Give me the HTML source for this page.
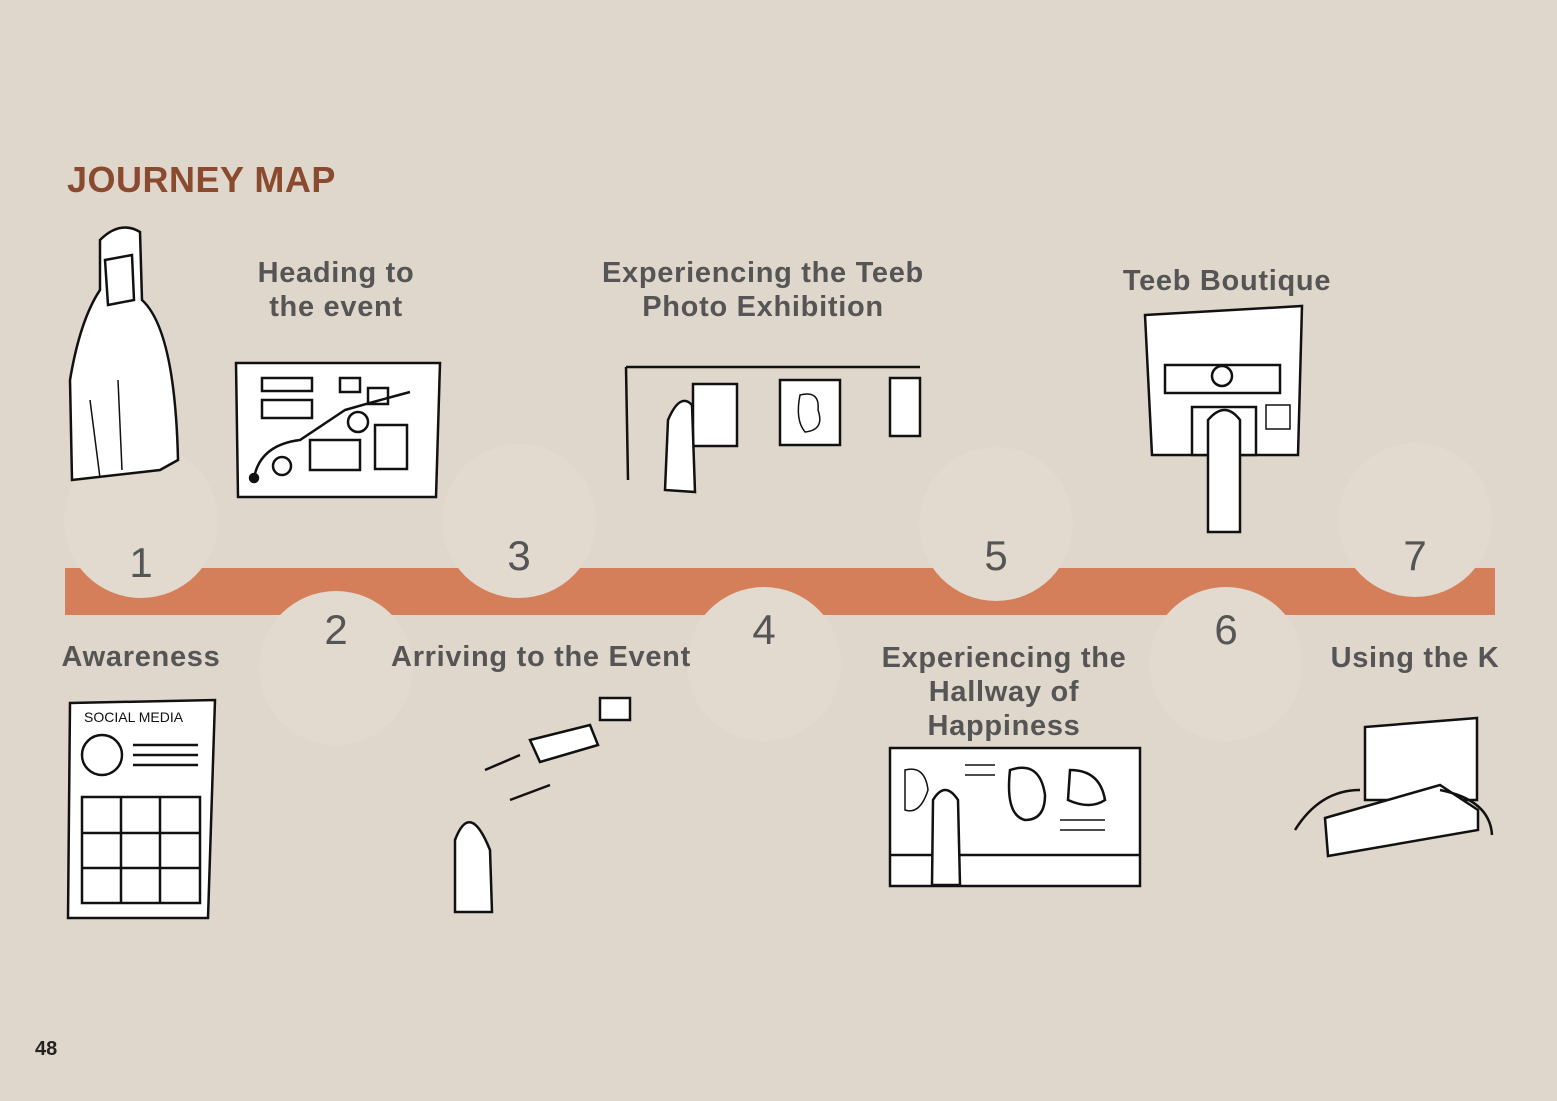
<!DOCTYPE html>
<html><head><meta charset="utf-8"><style>
html,body{margin:0;padding:0;background:#e0d7cc;}
svg{display:block}
text{font-family:"Liberation Sans",sans-serif;}
</style></head><body>
<svg width="1557" height="1101" viewBox="0 0 1557 1101" xmlns="http://www.w3.org/2000/svg">
<rect width="1557" height="1101" fill="#e0d7cc"/>
<text x="67" y="192" font-size="36" font-weight="bold" fill="#8a4a30" letter-spacing="0.5">JOURNEY MAP</text>
<text x="35" y="1055" font-size="20" font-weight="bold" fill="#222">48</text>

<rect x="65" y="568" width="1430" height="47" fill="#d57f5a"/>
<g fill="#e2d9cf">
<circle cx="141" cy="521" r="77"/><circle cx="519" cy="521" r="77"/><circle cx="996" cy="524" r="77"/><circle cx="1415" cy="520" r="77"/>
<circle cx="336" cy="668" r="77"/><circle cx="764" cy="664" r="77"/><circle cx="1226" cy="664" r="77"/>
</g>
<g font-size="42" fill="#555" text-anchor="middle">
<text x="141" y="577">1</text><text x="519" y="570">3</text><text x="996" y="570">5</text><text x="1415" y="570">7</text>
<text x="336" y="644">2</text><text x="764" y="644">4</text><text x="1226" y="644">6</text>
</g>

<g font-size="29" font-weight="bold" fill="#555" text-anchor="middle" letter-spacing="0.7">
<text x="336" y="282">Heading to</text><text x="336" y="316">the event</text>
<text x="763" y="282">Experiencing the Teeb</text><text x="763" y="316">Photo Exhibition</text>
<text x="1227" y="290">Teeb Boutique</text>
<text x="141" y="666">Awareness</text>
<text x="541" y="666">Arriving to the Event</text>
<text x="1004" y="667">Experiencing the</text><text x="1004" y="701">Hallway of</text><text x="1004" y="735">Happiness</text>
<text x="1415" y="667">Using the K</text>
</g>

<g stroke="#111" stroke-width="2.5" fill="#fff">
<path d="M72 480 L70 380 Q80 320 100 290 L100 240 Q120 220 140 232 L142 300 Q175 330 178 460 L160 470 Z"/>
<path d="M105 260 L132 255 L134 300 L108 305 Z"/>
<path d="M90 400 Q95 440 100 478 M118 380 L122 470" fill="none" stroke-width="1.5"/>
<path d="M236 363 L440 363 L436 497 L238 497 Z"/>
<rect x="262" y="378" width="50" height="13" fill="none"/><rect x="262" y="400" width="50" height="18" fill="none"/>
<rect x="340" y="378" width="20" height="14" fill="none"/><rect x="368" y="388" width="20" height="16" fill="none"/>
<rect x="310" y="440" width="50" height="30" fill="none"/><rect x="375" y="425" width="32" height="44" fill="none"/>
<circle cx="282" cy="466" r="9" fill="none"/><circle cx="358" cy="422" r="10" fill="none"/>
<path d="M254 478 Q260 445 300 440 Q330 420 345 410 Q380 400 410 392" fill="none"/>
<circle cx="254" cy="478" r="4" fill="#111"/>
<path d="M626 367 L920 367 M626 367 L628 480" fill="none"/>
<rect x="693" y="384" width="44" height="62"/><rect x="780" y="380" width="60" height="65"/><rect x="890" y="378" width="30" height="58"/>
<path d="M800 395 Q820 390 818 410 Q825 430 805 432 Q795 420 800 395Z" fill="none" stroke-width="1.5"/>
<path d="M665 490 L668 420 Q680 392 692 405 L695 492 Z"/>
<path d="M1145 315 L1302 306 L1298 455 L1152 455 Z"/>
<rect x="1165" y="365" width="115" height="28" fill="none"/>
<rect x="1192" y="407" width="64" height="48"/>
<path d="M1208 532 L1208 420 Q1225 400 1240 420 L1240 532 Z"/>
<circle cx="1222" cy="376" r="10"/>
<rect x="1266" y="405" width="24" height="24" fill="none" stroke-width="1.5"/>
<path d="M70 703 L215 700 L208 918 L68 918 Z"/>
<text x="84" y="722" font-size="14" stroke="none" fill="#111">SOCIAL MEDIA</text>
<circle cx="102" cy="755" r="20" fill="none"/>
<path d="M133 745 H198 M133 755 H198 M133 765 H198" fill="none"/>
<rect x="82" y="797" width="118" height="106" fill="none"/>
<path d="M82 833 H200 M82 868 H200 M121 797 V903 M160 797 V903" fill="none"/>
<path d="M455 912 L455 840 Q470 800 490 850 L492 912 Z"/>
<path d="M530 740 L590 725 L598 745 L540 762 Z"/>
<rect x="600" y="698" width="30" height="22"/>
<path d="M485 770 L520 755 M510 800 L550 785" fill="none"/>
<rect x="890" y="748" width="250" height="138"/>
<path d="M890 855 H1140" fill="none"/>
<path d="M932 885 L933 800 Q945 780 958 800 L960 885 Z"/>
<path d="M1010 770 Q1040 760 1045 795 Q1045 820 1025 820 Q1005 815 1010 770Z" fill="none"/>
<path d="M1070 770 Q1100 770 1105 800 Q1090 810 1068 800Z" fill="none"/>
<path d="M905 770 Q925 765 928 790 Q920 815 905 810Z M1060 820 H1105 M1060 830 H1105 M965 765 H995 M965 775 H995" fill="none" stroke-width="1.5"/>
<path d="M1365 727 L1477 718 L1477 800 L1365 800 Z"/>
<path d="M1325 818 L1440 785 L1478 810 L1478 830 L1328 856 Z"/>
<path d="M1295 830 Q1320 790 1360 790 M1440 790 Q1490 800 1492 835" fill="none"/>
</g>
</svg>
</body></html>
